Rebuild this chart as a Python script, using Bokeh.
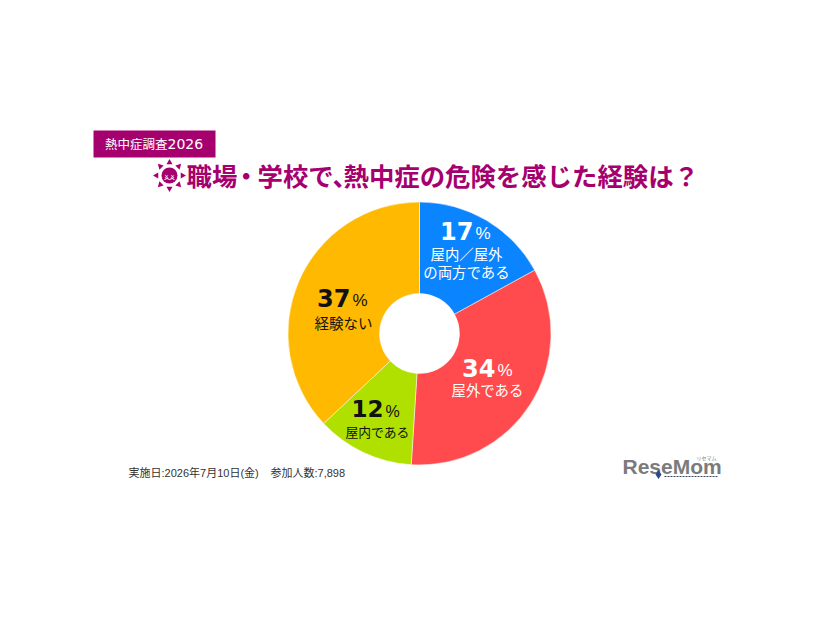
# heatstroke survey donut
import numpy as np
from bokeh.core.properties import value
from bokeh.embed import file_html
from bokeh.models import Range1d
from bokeh.plotting import figure
from bokeh.resources import INLINE

# survey results, clockwise from the top
categories = ["屋内／屋外の両方である", "屋外である", "屋内である", "経験ない"]
shares = [17, 34, 12, 37]
colors = ["#0a84ff", "#ff4b4d", "#afe000", "#ffb900"]

badge_text = "熱中症調査"
badge_year = "2026"
footer_left = "実施日:2026年7月10日(金)"
footer_right = "参加人数:7,898"

MAGENTA = "#a6006f"
JP = value("Noto Sans CJK JP")
MIXED = value("Liberation Sans, Noto Sans CJK JP")
NUM = value("DejaVu Sans")
PCT = value("Liberation Sans")


def Y(py):
    # reference pixels are counted from the top of the window
    return 620 - py


p = figure(width=810, height=604, output_backend="svg", toolbar_location=None,
           x_range=Range1d(0, 810), y_range=Range1d(16, 620),
           min_border=0, outline_line_color=None)
p.axis.visible = False
p.grid.visible = False
p.background_fill_color = "white"
p.border_fill_color = "white"

# donut
fractions = np.array(shares) / sum(shares)
ends = np.cumsum(fractions)
starts = ends - fractions
p.annular_wedge(x=419, y=Y(333), inner_radius=40, outer_radius=131.5,
                start_angle=np.pi / 2 - 2 * np.pi * ends,
                end_angle=np.pi / 2 - 2 * np.pi * starts,
                fill_color=colors, line_color="white", line_width=0.5)

# badge
p.quad(left=93, right=215, top=Y(130), bottom=Y(157), fill_color=MAGENTA, line_color=None)
p.text(x=[167], y=[Y(143)], text=[badge_text], text_color="white", text_font=JP,
       text_font_size="12.5px", text_align="right", text_baseline="middle")
p.text(x=[167], y=[Y(143)], text=[badge_year], text_color="white", text_font=NUM,
       text_font_size="14px", text_align="left", text_baseline="middle")

# sun icon
icon_x, icon_y = 169, 175
p.circle(x=[icon_x], y=[Y(icon_y)], radius=8, fill_color=MAGENTA, line_color=None)
for k in range(8):
    a = k * np.pi / 4
    p.scatter(x=[icon_x + 13 * np.cos(a)], y=[Y(icon_y) + 13 * np.sin(a)], size=6,
              marker="triangle", angle=a - np.pi / 2, fill_color=MAGENTA, line_color=None)
p.text(x=[icon_x], y=[Y(icon_y + 1)], text=["× ×"], text_color="white", text_font=PCT,
       text_font_size="7px", text_align="center", text_baseline="middle")
p.line(x=[icon_x - 5, icon_x - 2.5, icon_x, icon_x + 2.5, icon_x + 5],
       y=[Y(icon_y + 4), Y(icon_y + 3), Y(icon_y + 4), Y(icon_y + 3), Y(icon_y + 4)],
       line_color="white", line_width=1)

# title, punctuation in the reference is set tighter than the kanji
for tx, part in [(186, "職場"), (233, "・"), (257, "学校で"), (332, "、"), (343, "熱中症の危険を感じた経験は？")]:
    p.text(x=[tx], y=[Y(174)], text=[part], text_color=MAGENTA, text_font=JP,
           text_font_style="bold", text_font_size="25.4px", text_align="left", text_baseline="middle")


def share_label(num, right, base, color, size, pct_size, lines, line_size):
    # right is the right edge of the digits, base their baseline
    p.text(x=[right], y=[Y(base - 11)], text=[f"{num}"], text_color=color, text_font=NUM,
           text_font_style="bold", text_font_size=f"{size}px", text_align="right",
           text_baseline="middle")
    p.text(x=[right + 2], y=[Y(base - 8)], text=["%"], text_color=color, text_font=PCT,
           text_font_size=f"{pct_size}px", text_align="left", text_baseline="middle")
    for lx, ly, line in lines:
        p.text(x=[lx], y=[Y(ly - 2)], text=[line], text_color=color, text_font=JP,
               text_font_size=f"{line_size}px", text_align="center", text_baseline="middle")


share_label(shares[0], 473, 241, "white", 24, 17, [(466, 255, "屋内／屋外"), (466, 273, "の両方である")], 14.4)
share_label(shares[1], 495, 378, "white", 24, 17, [(487, 391, "屋外である")], 14.4)
share_label(shares[2], 383, 419, "#111111", 23, 16, [(377, 433, "屋内である")], 12.8)
share_label(shares[3], 350, 308, "#111111", 24, 17, [(343, 324, "経験ない")], 14.5)

# footer
p.text(x=[128], y=[Y(472)], text=[footer_left], text_color="#333333", text_font=MIXED,
       text_font_size="11px", text_align="left", text_baseline="middle")
p.text(x=[270], y=[Y(472)], text=[footer_right], text_color="#333333", text_font=MIXED,
       text_font_size="11px", text_align="left", text_baseline="middle")

# logo
p.text(x=[622], y=[Y(466)], text=["ReseMom"], text_color="#7b7b7b", text_font=PCT,
       text_font_style="bold", text_font_size="21px", text_align="left", text_baseline="middle")
p.text(x=[716], y=[Y(457)], text=["リセマム"], text_color="#777777", text_font=JP,
       text_font_size="5px", text_align="right", text_baseline="middle")
p.scatter(x=[658], y=[Y(474)], size=9, marker="diamond", fill_color="#2b4a8a", line_color=None)
p.line(x=[664, 717], y=[Y(476), Y(476)], line_color="#3a4660", line_width=1, line_dash="2 1")

open("out.html", "w").write(file_html(p, INLINE))
